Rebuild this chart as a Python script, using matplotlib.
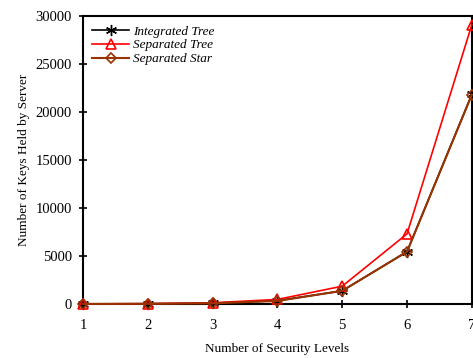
import matplotlib
matplotlib.use('Agg')
import matplotlib.pyplot as plt

plt.rcParams['font.family'] = ['Liberation Serif', 'DejaVu Serif']

levels = [1, 2, 3, 4, 5, 6, 7]
integrated_tree = [4, 20, 84, 340, 1364, 5460, 21844]
separated_tree = [6, 28, 120, 470, 1850, 7300, 29100]
separated_star = [3, 15, 63, 310, 1370, 5440, 21800]

fig = plt.figure(figsize=(4.73, 3.58), dpi=100)
ax = fig.add_axes([0.1755, 0.151, 0.822, 0.804])

ax.plot(levels, integrated_tree, color='black', marker=(6, 2, 0), markersize=8,
        linewidth=1.2, label='Integrated Tree', clip_on=False, zorder=3)
ax.plot(levels, separated_tree, color='red', marker='^', markersize=7,
        markerfacecolor='none', markeredgewidth=1.2, linewidth=1.2,
        label='Separated Tree', clip_on=False, zorder=4)
ax.plot(levels, separated_star, color='#993300', marker='D', markersize=5,
        markerfacecolor='none', markeredgewidth=1.2, linewidth=1.5,
        label='Separated Star', clip_on=False, zorder=5)

ax.set_xlim(1, 7)
ax.set_ylim(0, 30000)
ax.set_xticks(levels)
ax.set_yticks(range(0, 30001, 5000))
ax.tick_params(direction='inout', length=6, width=1.2, labelsize=10.5)
ax.tick_params(axis='x', pad=8)
ax.tick_params(axis='y', pad=5)
for s in ax.spines.values():
    s.set_linewidth(1.5)

ax.set_xlabel('Number of Security Levels', fontsize=9.5, labelpad=8)
ax.set_ylabel('Number of Keys Held by Server', fontsize=9.5)

leg = ax.legend(loc='upper left', frameon=False, handlelength=2.8,
                prop={'style': 'italic', 'size': 9.5}, borderaxespad=0.3,
                labelspacing=0.12, handletextpad=0.3)

fig.savefig('out.png', dpi=100)
